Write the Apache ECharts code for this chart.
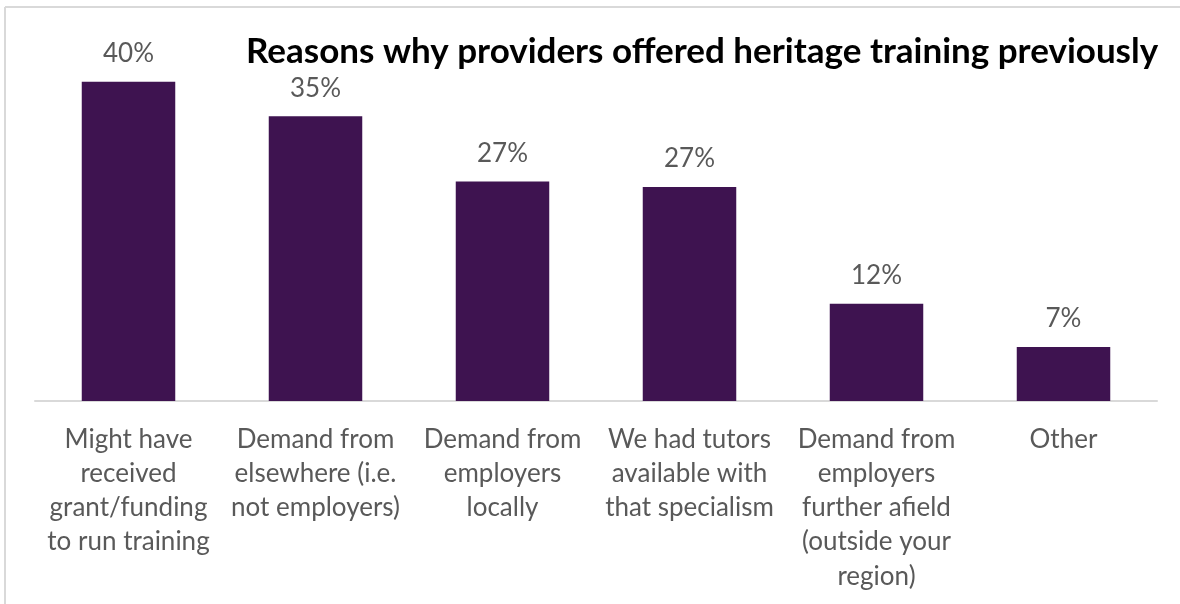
<!DOCTYPE html>
<html>
<head>
<meta charset="utf-8">
<script src="https://cdn.jsdelivr.net/npm/echarts@6/dist/echarts.min.js"></script>
<style>
  html, body { margin: 0; padding: 0; background: #fff; }
  #chart { width: 1180px; height: 604px; }
</style>
</head>
<body>
<div id="chart"></div>
<script>
// Survey responses: reasons for offering heritage training (share of providers, %)
const categories = [
  'Might have\nreceived\ngrant/funding\nto run training',
  'Demand from\nelsewhere (i.e.\nnot employers)',
  'Demand from\nemployers\nlocally',
  'We had tutors\navailable with\nthat specialism',
  'Demand from\nemployers\nfurther afield\n(outside your\nregion)',
  'Other'
];
const shares = [39.7, 35.4, 27.3, 26.6, 12.1, 6.7];
const titleText = 'Reasons why providers offered heritage training previously';

const FONT = 'Lato';
const chart = echarts.init(document.getElementById('chart'), null, { renderer: 'canvas' });

chart.setOption({
  animation: false,
  backgroundColor: '#ffffff',
  title: {
    text: titleText,
    left: 241,
    top: 29,
    textStyle: {
      fontFamily: FONT,
      fontWeight: 'bold',
      fontSize: 35,
      color: '#000000'
    }
  },
  graphic: [
    // light frame along the top and left edges
    { type: 'line', shape: { x1: 5, y1: 7, x2: 1180, y2: 7 }, style: { stroke: '#d9d9d9', lineWidth: 2 } },
    { type: 'line', shape: { x1: 5, y1: 7, x2: 5, y2: 604 }, style: { stroke: '#d9d9d9', lineWidth: 2 } }
  ],
  grid: { left: 35, right: 23, top: 39, bottom: 203, containLabel: false },
  xAxis: {
    type: 'category',
    data: categories,
    axisLine: { show: true, lineStyle: { color: '#d9d9d9', width: 2 } },
    axisTick: { show: false },
    axisLabel: {
      interval: 0,
      margin: 21,
      fontFamily: FONT,
      fontSize: 26,
      lineHeight: 34.3,
      color: '#595959',
      align: 'center'
    }
  },
  yAxis: {
    type: 'value',
    min: 0,
    max: 45,
    show: false,
    splitLine: { show: false }
  },
  series: [{
    type: 'bar',
    data: shares,
    barCategoryGap: '50%',
    itemStyle: { color: '#3e1350' },
    label: {
      show: true,
      position: 'top',
      distance: 15,
      fontFamily: FONT,
      fontSize: 26,
      color: '#595959',
      formatter: p => Math.round(p.value) + '%'
    }
  }]
});
</script>
</body>
</html>
